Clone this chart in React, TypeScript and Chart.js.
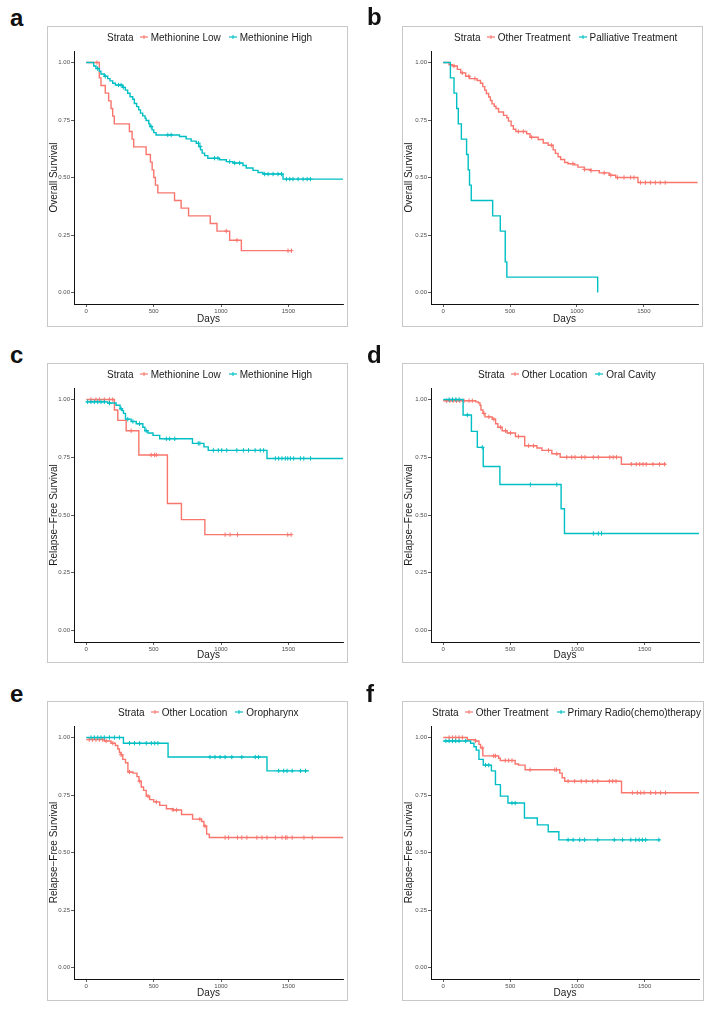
import React, { useEffect, useRef } from "react";
import { Chart, registerables } from "chart.js";

Chart.register(...registerables);

const RED = "#F8766D";
const TEAL = "#00BFC4";
const FONT = "'Liberation Sans', Arial, Helvetica, sans-serif";

const X_MIN = -91;
const X_MAX = 1905;
const X_TICKS = [0, 500, 1000, 1500];
const Y_TICKS = [0, 0.25, 0.5, 0.75, 1];

const PANEL_LETTERS = ["a", "b", "c", "d", "e", "f"];
const Y_TITLES = ["Overall Survival", "Overall Survival", "Relapse\u2212Free Survival", "Relapse\u2212Free Survival", "Relapse\u2212Free Survival", "Relapse\u2212Free Survival"];
const X_TITLE = "Days";
const LEGEND_TITLE = "Strata";
const LEGEND_RED = ["Methionine Low", "Other Treatment", "Methionine Low", "Other Location", "Other Location", "Other Treatment"];
const LEGEND_TEAL = ["Methionine High", "Palliative Treatment", "Methionine High", "Oral Cavity", "Oropharynx", "Primary Radio(chemo)therapy"];

// ---- Panel a: Overall survival by methionine ----
const A_LOW_T = [0, 97, 109, 141, 166, 184, 196, 208, 320, 340, 352, 444, 476, 489, 501, 513, 531, 655, 704, 759, 920, 970, 1064, 1151];
const A_LOW_S = [1, 0.933, 0.9, 0.867, 0.833, 0.8, 0.767, 0.733, 0.7, 0.667, 0.633, 0.6, 0.567, 0.533, 0.5, 0.467, 0.433, 0.4, 0.367, 0.333, 0.3, 0.267, 0.227, 0.182];
const A_LOW_END = 1525;
const A_LOW_C = [79, 1039, 1118, 1497, 1522];

const A_HIGH_T = [0, 55, 72, 97, 109, 134, 159, 176, 196, 216, 270, 290, 307, 325, 345, 357, 374, 389, 402, 419, 436, 444, 464, 473, 488, 501, 518, 692, 741, 778, 816, 835, 848, 860, 878, 902, 989, 1039, 1088, 1163, 1187, 1237, 1274, 1311, 1460];
const A_HIGH_S = [1, 0.985, 0.974, 0.962, 0.95, 0.94, 0.93, 0.92, 0.91, 0.902, 0.892, 0.88, 0.866, 0.851, 0.84, 0.822, 0.808, 0.794, 0.78, 0.768, 0.758, 0.748, 0.733, 0.722, 0.707, 0.695, 0.685, 0.678, 0.668, 0.658, 0.649, 0.635, 0.62, 0.606, 0.595, 0.584, 0.577, 0.569, 0.563, 0.552, 0.541, 0.531, 0.522, 0.515, 0.493];
const A_HIGH_END = 1905;
const A_HIGH_C = [84, 141, 240, 258, 275, 481, 605, 630, 833, 845, 952, 977, 1064, 1101, 1138, 1324, 1349, 1386, 1423, 1448, 1485, 1510, 1534, 1572, 1609, 1639, 1663];

// ---- Panel b: Overall survival by treatment ----
const B_OTHER_T = [0, 44, 69, 106, 131, 168, 197, 254, 279, 296, 311, 323, 340, 353, 365, 382, 395, 414, 451, 476, 488, 508, 525, 543, 624, 649, 710, 748, 785, 822, 839, 859, 878, 908, 933, 982, 1007, 1056, 1105, 1167, 1241, 1290, 1456];
const B_OTHER_S = [1, 0.99, 0.985, 0.97, 0.955, 0.94, 0.93, 0.922, 0.91, 0.895, 0.88, 0.865, 0.85, 0.835, 0.82, 0.81, 0.8, 0.785, 0.77, 0.76, 0.745, 0.725, 0.71, 0.7, 0.69, 0.675, 0.665, 0.65, 0.64, 0.62, 0.605, 0.59, 0.578, 0.565, 0.56, 0.555, 0.545, 0.535, 0.53, 0.52, 0.51, 0.5, 0.478];
const B_OTHER_END = 1902;
const B_OTHER_C = [81, 143, 192, 237, 562, 599, 661, 809, 970, 1056, 1105, 1204, 1253, 1303, 1352, 1401, 1426, 1475, 1512, 1549, 1586, 1623, 1660];

const B_PALL_T = [0, 54, 81, 101, 113, 136, 175, 187, 197, 210, 370, 427, 464, 476, 1155];
const B_PALL_S = [1, 0.933, 0.867, 0.8, 0.733, 0.667, 0.6, 0.533, 0.467, 0.4, 0.333, 0.267, 0.133, 0.067, 0];
const B_PALL_END = 1155;
const B_PALL_C: number[] = [];

// ---- Panel c: Relapse-free survival by methionine ----
const C_LOW_T = [0, 209, 234, 296, 390, 602, 706, 880];
const C_LOW_S = [1, 0.955, 0.91, 0.865, 0.76, 0.55, 0.48, 0.415];
const C_LOW_END = 1520;
const C_LOW_C = [35, 72, 97, 134, 172, 196, 333, 482, 507, 520, 1030, 1067, 1122, 1495, 1520];

const C_HIGH_T = [0, 159, 221, 251, 266, 276, 291, 333, 371, 420, 435, 458, 495, 545, 788, 873, 905, 1341];
const C_HIGH_S = [0.99, 0.985, 0.975, 0.96, 0.952, 0.94, 0.915, 0.905, 0.895, 0.88, 0.865, 0.855, 0.845, 0.83, 0.81, 0.795, 0.78, 0.745];
const C_HIGH_END = 1905;
const C_HIGH_C = [10, 35, 60, 85, 109, 134, 172, 259, 308, 346, 395, 445, 594, 619, 657, 831, 843, 943, 980, 1005, 1042, 1117, 1166, 1204, 1253, 1291, 1316, 1403, 1428, 1452, 1477, 1495, 1515, 1539, 1589, 1614, 1664];

// ---- Panel d: Relapse-free survival by location (oral cavity) ----
const D_OTHER_T = [0, 242, 262, 274, 281, 296, 311, 365, 390, 407, 439, 476, 538, 607, 698, 735, 809, 871, 1327];
const D_OTHER_S = [0.995, 0.99, 0.985, 0.975, 0.955, 0.94, 0.925, 0.915, 0.895, 0.88, 0.865, 0.855, 0.84, 0.8, 0.79, 0.78, 0.765, 0.75, 0.72];
const D_OTHER_END = 1660;
const D_OTHER_C = [25, 49, 74, 99, 123, 155, 192, 217, 303, 340, 377, 427, 464, 501, 560, 636, 673, 784, 846, 920, 957, 982, 1031, 1056, 1118, 1155, 1241, 1266, 1290, 1401, 1438, 1463, 1488, 1512, 1562, 1611, 1648];

const D_ORAL_T = [0, 148, 210, 254, 298, 422, 878, 903];
const D_ORAL_S = [1, 0.933, 0.862, 0.793, 0.71, 0.632, 0.527, 0.42];
const D_ORAL_END = 1905;
const D_ORAL_C = [44, 69, 94, 118, 180, 291, 649, 846, 1118, 1155, 1179];

// ---- Panel e: Relapse-free survival by location (oropharynx) ----
const E_OTHER_T = [0, 134, 184, 216, 234, 246, 259, 271, 291, 309, 346, 376, 391, 408, 425, 445, 470, 500, 545, 595, 644, 707, 789, 856, 873, 893, 913];
const E_OTHER_S = [0.991, 0.985, 0.975, 0.965, 0.95, 0.935, 0.925, 0.905, 0.89, 0.85, 0.845, 0.83, 0.81, 0.785, 0.77, 0.745, 0.73, 0.72, 0.705, 0.69, 0.685, 0.665, 0.645, 0.635, 0.615, 0.58, 0.565];
const E_OTHER_END = 1905;
const E_OTHER_C = [22, 47, 72, 97, 122, 147, 197, 259, 321, 396, 458, 520, 644, 669, 843, 881, 1030, 1055, 1122, 1154, 1192, 1266, 1304, 1341, 1403, 1453, 1478, 1490, 1528, 1615, 1677];

const E_ORO_T = [0, 276, 607, 1341];
const E_ORO_S = [1, 0.975, 0.915, 0.855];
const E_ORO_END = 1652;
const E_ORO_C = [35, 60, 85, 109, 134, 172, 209, 246, 321, 358, 396, 445, 483, 508, 532, 918, 955, 993, 1030, 1080, 1154, 1254, 1279, 1428, 1465, 1490, 1528, 1590, 1627];

// ---- Panel f: Relapse-free survival by primary radio(chemo)therapy ----
const F_OTHER_T = [0, 180, 241, 266, 278, 295, 413, 425, 536, 561, 610, 868, 886, 905, 1328];
const F_OTHER_S = [1, 0.99, 0.985, 0.97, 0.955, 0.92, 0.91, 0.9, 0.885, 0.88, 0.86, 0.845, 0.825, 0.81, 0.76];
const F_OTHER_END = 1905;
const F_OTHER_C = [44, 69, 93, 118, 143, 241, 290, 376, 389, 462, 487, 512, 647, 831, 844, 930, 979, 1028, 1065, 1114, 1151, 1237, 1262, 1287, 1409, 1446, 1471, 1496, 1545, 1582, 1619, 1656];

const F_PRIM_T = [0, 204, 229, 246, 266, 298, 359, 389, 426, 482, 605, 701, 782, 861];
const F_PRIM_S = [0.985, 0.975, 0.96, 0.945, 0.905, 0.88, 0.855, 0.795, 0.745, 0.715, 0.65, 0.62, 0.59, 0.555];
const F_PRIM_END = 1614;
const F_PRIM_C = [20, 44, 69, 93, 118, 167, 315, 339, 512, 536, 930, 967, 1016, 1053, 1151, 1274, 1336, 1397, 1434, 1459, 1483, 1508, 1606];

type Curve = { t: number[]; s: number[]; end: number; c: number[]; color: string };
type Rect = { l: number; t: number; w: number; h: number };
type PlotRect = { l: number; r: number; t: number; b: number };

const CURVES: Curve[][] = [
  [
    { t: A_HIGH_T, s: A_HIGH_S, end: A_HIGH_END, c: A_HIGH_C, color: TEAL },
    { t: A_LOW_T, s: A_LOW_S, end: A_LOW_END, c: A_LOW_C, color: RED },
  ],
  [
    { t: B_PALL_T, s: B_PALL_S, end: B_PALL_END, c: B_PALL_C, color: TEAL },
    { t: B_OTHER_T, s: B_OTHER_S, end: B_OTHER_END, c: B_OTHER_C, color: RED },
  ],
  [
    { t: C_HIGH_T, s: C_HIGH_S, end: C_HIGH_END, c: C_HIGH_C, color: TEAL },
    { t: C_LOW_T, s: C_LOW_S, end: C_LOW_END, c: C_LOW_C, color: RED },
  ],
  [
    { t: D_ORAL_T, s: D_ORAL_S, end: D_ORAL_END, c: D_ORAL_C, color: TEAL },
    { t: D_OTHER_T, s: D_OTHER_S, end: D_OTHER_END, c: D_OTHER_C, color: RED },
  ],
  [
    { t: E_ORO_T, s: E_ORO_S, end: E_ORO_END, c: E_ORO_C, color: TEAL },
    { t: E_OTHER_T, s: E_OTHER_S, end: E_OTHER_END, c: E_OTHER_C, color: RED },
  ],
  [
    { t: F_PRIM_T, s: F_PRIM_S, end: F_PRIM_END, c: F_PRIM_C, color: TEAL },
    { t: F_OTHER_T, s: F_OTHER_S, end: F_OTHER_END, c: F_OTHER_C, color: RED },
  ],
];

// layout geometry (page pixels)
const BOXES: Rect[] = [
  { l: 47, t: 26, w: 301, h: 301 },
  { l: 402, t: 26, w: 301, h: 301 },
  { l: 47, t: 363, w: 301, h: 300 },
  { l: 402, t: 363, w: 302, h: 300 },
  { l: 47, t: 701, w: 301, h: 300 },
  { l: 402, t: 701, w: 302, h: 300 },
];
const PLOTS: PlotRect[] = [
  { l: 74, r: 343, t: 51, b: 304 },
  { l: 431, r: 700, t: 51, b: 304 },
  { l: 74, r: 343, t: 388, b: 642 },
  { l: 431, r: 700, t: 388, b: 642 },
  { l: 74, r: 343, t: 726, b: 979 },
  { l: 431, r: 700, t: 726, b: 979 },
];
const LEGEND_POS = [
  { x: 107, y: 37 },
  { x: 454, y: 37 },
  { x: 107, y: 374 },
  { x: 478, y: 374 },
  { x: 118, y: 712 },
  { x: 432, y: 712 },
];
const LETTER_POS = [
  { x: 10, y: 6 },
  { x: 367, y: 5 },
  { x: 10, y: 343 },
  { x: 367, y: 343 },
  { x: 10, y: 682 },
  { x: 366, y: 682 },
];

function stepAt(t: number[], s: number[], x: number): number {
  let v = s[0];
  for (let i = 0; i < t.length; i++) {
    if (t[i] <= x) v = s[i];
  }
  return v;
}

function Panel({ idx }: { idx: number }) {
  const ref = useRef<HTMLCanvasElement | null>(null);
  const box = BOXES[idx];
  const plot = PLOTS[idx];

  useEffect(() => {
    if (!ref.current) return;
    const datasets: any[] = [];
    CURVES[idx].forEach((cv) => {
      const line = cv.t.map((x, i) => ({ x, y: cv.s[i] }));
      line.push({ x: cv.end, y: cv.s[cv.s.length - 1] });
      datasets.push({
        data: line,
        borderColor: cv.color,
        backgroundColor: cv.color,
        borderWidth: 1.4,
        stepped: true,
        pointRadius: 0,
        fill: false,
      });
      datasets.push({
        data: cv.c.map((x) => ({ x, y: stepAt(cv.t, cv.s, x) })),
        showLine: false,
        pointStyle: "cross",
        pointRadius: 2.2,
        pointBorderWidth: 1,
        borderColor: cv.color,
        backgroundColor: cv.color,
        pointBorderColor: cv.color,
      });
    });

    const yWidth = plot.l - box.l;
    const xHeight = box.t + box.h - plot.b;
    const padTop = plot.t - box.t;
    const padRight = box.l + box.w - plot.r;

    const tickFont = { family: FONT, size: 6 };
    const titleFont = { family: FONT, size: 10 };

    const chart = new Chart(ref.current, {
      type: "line",
      data: { datasets },
      options: {
        responsive: false,
        animation: false,
        events: [],
        layout: { padding: { top: padTop, right: padRight, left: 0, bottom: 0 } },
        plugins: { legend: { display: false }, tooltip: { enabled: false } },
        scales: {
          x: {
            type: "linear",
            min: X_MIN,
            max: X_MAX,
            afterBuildTicks: (s: any) => {
              s.ticks = X_TICKS.map((v) => ({ value: v }));
            },
            afterFit: (s: any) => {
              s.height = xHeight;
            },
            ticks: {
              font: tickFont,
              color: "#4d4d4d",
              padding: 1,
              maxRotation: 0,
              autoSkip: false,
              callback: (v: any) => String(v),
            },
            grid: { display: true, drawOnChartArea: false, drawTicks: true, tickLength: 3, color: "#333333", lineWidth: 0.8 },
            border: { display: true, color: "#111111", width: 1 },
            title: { display: true, text: X_TITLE, font: titleFont, color: "#1a1a1a", padding: { top: 0, bottom: 2 } },
          },
          y: {
            type: "linear",
            min: -0.05,
            max: 1.05,
            afterBuildTicks: (s: any) => {
              s.ticks = Y_TICKS.map((v) => ({ value: v }));
            },
            afterFit: (s: any) => {
              s.width = yWidth;
            },
            ticks: {
              font: tickFont,
              color: "#4d4d4d",
              padding: 1,
              autoSkip: false,
              callback: (v: any) => Number(v).toFixed(2),
            },
            grid: { display: true, drawOnChartArea: false, drawTicks: true, tickLength: 3, color: "#333333", lineWidth: 0.8 },
            border: { display: true, color: "#111111", width: 1 },
            title: { display: true, text: Y_TITLES[idx], font: titleFont, color: "#1a1a1a", padding: { top: 1, bottom: 0 } },
          },
        },
      } as any,
    });
    return () => chart.destroy();
  }, [idx]);

  const lg = LEGEND_POS[idx];
  const lp = LETTER_POS[idx];

  const key = (color: string) => (
    <svg width={8} height={8} style={{ margin: "0 3px 0 0", flex: "none" }}>
      <line x1={0} y1={4} x2={8} y2={4} stroke={color} strokeWidth={1.2} />
      <line x1={4} y1={2} x2={4} y2={6} stroke={color} strokeWidth={1} />
    </svg>
  );

  return (
    <>
      <div
        style={{
          position: "absolute",
          left: lp.x,
          top: lp.y,
          fontFamily: FONT,
          fontWeight: "bold",
          fontSize: 24,
          lineHeight: "24px",
          color: "#111",
        }}
      >
        {PANEL_LETTERS[idx]}
      </div>
      <div
        style={{
          position: "absolute",
          left: box.l,
          top: box.t,
          width: box.w,
          height: box.h,
          border: "1px solid #c8c8c8",
          boxSizing: "border-box",
        }}
      />
      <canvas
        ref={ref}
        width={box.w}
        height={box.h}
        style={{ position: "absolute", left: box.l, top: box.t, width: box.w, height: box.h }}
      />
      <div
        style={{
          position: "absolute",
          left: lg.x,
          top: lg.y - 6,
          height: 12,
          display: "flex",
          alignItems: "center",
          whiteSpace: "nowrap",
          fontFamily: FONT,
          fontSize: 10,
          color: "#1a1a1a",
        }}
      >
        <span style={{ marginRight: 6 }}>{LEGEND_TITLE}</span>
        {key(RED)}
        <span style={{ marginRight: 8 }}>{LEGEND_RED[idx]}</span>
        {key(TEAL)}
        <span>{LEGEND_TEAL[idx]}</span>
      </div>
    </>
  );
}

export default function App() {
  return (
    <div style={{ position: "absolute", left: 0, top: 0, width: 712, height: 1009, background: "#fff", overflow: "hidden" }}>
      {PANEL_LETTERS.map((_, i) => (
        <Panel key={i} idx={i} />
      ))}
    </div>
  );
}
